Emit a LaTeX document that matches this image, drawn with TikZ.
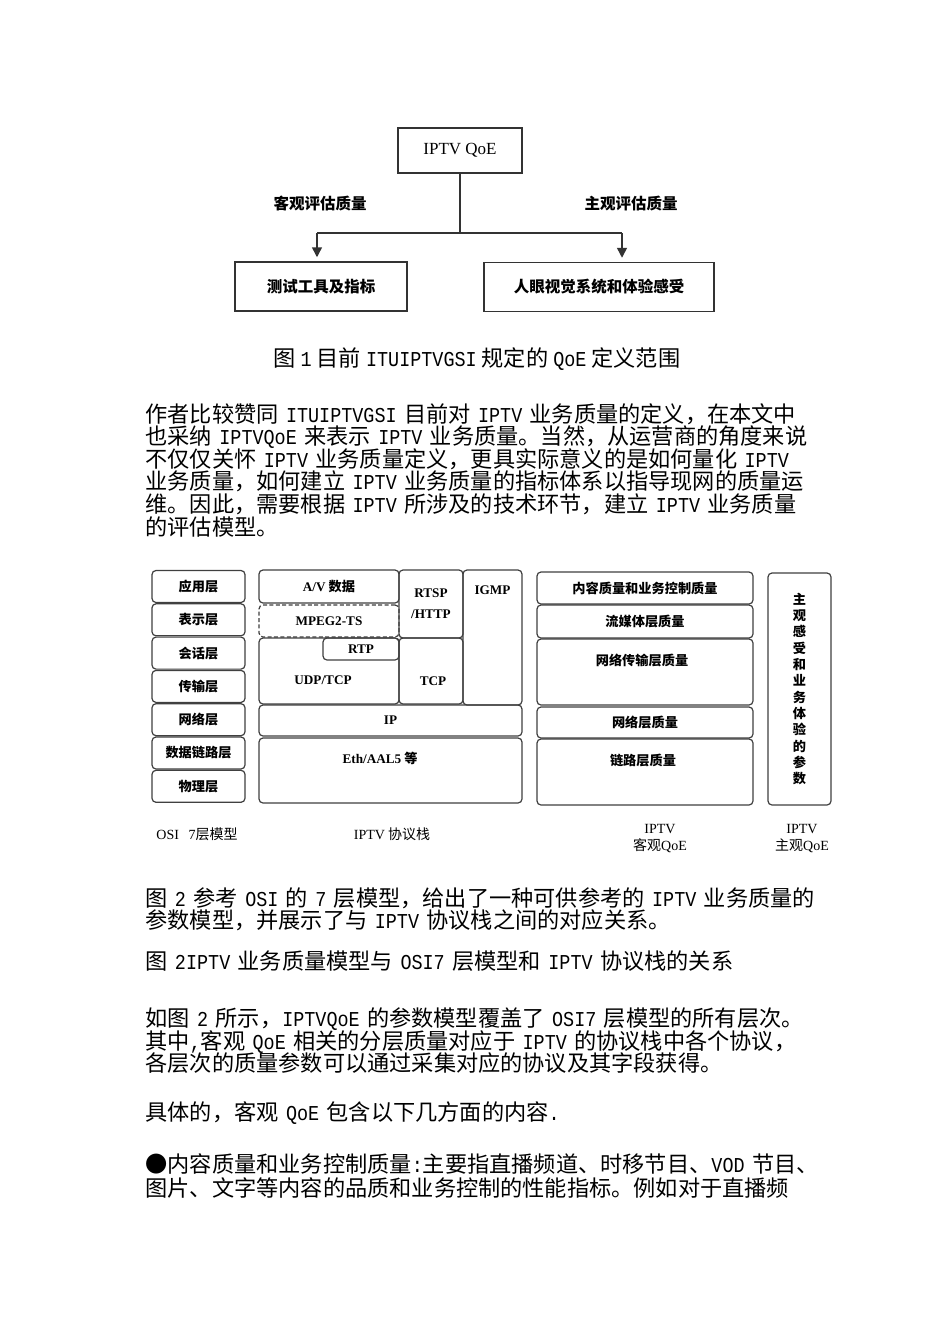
\documentclass[tikz,border=0pt]{standalone}
\usepackage{fontspec}
\newfontfamily\cjk{Noto Sans CJK SC}
\newfontfamily\tms{Liberation Serif}
\newfontfamily\monofnt{Liberation Mono}[Scale=0.955,FakeStretch=0.87]
\newcommand\ltn[1]{{\monofnt #1}}
\newcommand\bodyfont{\cjk\fontsize{11.1pt}{11.3pt}\selectfont\spaceskip=2.5pt\relax\lineskiplimit=-20pt\relax}
\newcommand\listfont{\cjk\fontsize{11.1pt}{12.3pt}\selectfont\spaceskip=2.5pt\relax\lineskiplimit=-20pt\relax}
\newcommand\figfont{\cjk\bfseries\fontsize{7.75pt}{9pt}\selectfont}
\newcommand\stackfont{\cjk\bfseries\fontsize{6.6pt}{8.15pt}\selectfont}
\newcommand\botfont{\cjk\fontsize{7pt}{8.5pt}\selectfont}
\usepackage{tikz}
\usetikzlibrary{arrows.meta,positioning}

\begin{document}
\begin{tikzpicture}[x=0.5pt,y=-0.5pt,>={Triangle[length=5pt,width=5pt]},
  wire/.style={draw=black!80,line width=0.75pt},
  box/.style={wire,minimum height=24.5pt,inner sep=0pt,font=\figfont},
  layer/.style={draw=black!75,line width=0.6pt,rounded corners=2pt,inner sep=0pt,font=\stackfont},
  lbl/.style={inner sep=0pt,font=\stackfont},
  para/.style={anchor=base west,inner sep=0pt,text width=370pt,align=left,font=\bodyfont}]
\path[fill=white,use as bounding box] (0,0) rectangle (950,1344);

% figure 1
\node[box,minimum width=62pt,minimum height=22.5pt] (qoe) at (460,150.5) {\tms\mdseries\fontsize{8.5pt}{10pt}\selectfont IPTV QoE};
\node[box,minimum width=86pt] (tool) at (321,286.5) {测试工具及指标};
\node[box,minimum width=115pt] (human) at (599,287) {人眼视觉系统和体验感受};
\coordinate (split) at (460,233);
\coordinate (lft) at (317,233);
\coordinate (rgt) at (622,233);
\draw[wire] (qoe) -- (split);
\draw[wire] (lft) -- (rgt);
\draw[wire,->,shorten >=2pt] (lft) -- (lft |- tool.north);
\draw[wire,->,shorten >=2pt] (rgt) -- (rgt |- human.north);
\node[font=\figfont] (objlab) at (320,204) {客观评估质量};
\node[font=\figfont] (subjlab) at (631,204) {主观评估质量};

\node[anchor=base west,inner sep=0pt,font=\bodyfont] (cap1) at (273,366.7) {图 \ltn{1} 目前 \ltn{ITUIPTVGSI} 规定的 \ltn{QoE} 定义范围};
\node[para] (para1) at (145,422) {作者比较赞同 \ltn{ITUIPTVGSI} 目前对 \ltn{IPTV} 业务质量的定义，在本文中\\
也采纳 \ltn{IPTVQoE} 来表示 \ltn{IPTV} 业务质量。当然，从运营商的角度来说\\
不仅仅关怀 \ltn{IPTV} 业务质量定义，更具实际意义的是如何量化 \ltn{IPTV}\\
业务质量，如何建立 \ltn{IPTV} 业务质量的指标体系以指导现网的质量运\\
维。因此，需要根据 \ltn{IPTV} 所涉及的技术环节，建立 \ltn{IPTV} 业务质量\\
的评估模型。};

% figure 2: OSI layers
\foreach \name [count=\i] in {应用层,表示层,会话层,传输层,网络层,数据链路层,物理层}
  \node[layer,minimum width=46.5pt,minimum height=16pt] (osi\i) at (198.5,553.2+33.3*\i) {\name};

% IPTV protocol stack
\node[layer,minimum width=70pt,minimum height=16.5pt] (av) at (329,586.5) {{\tms A/V} 数据};
\node[layer,dash pattern=on 2pt off 1.2pt,minimum width=70pt,minimum height=16pt] (mpeg) at (329,621) {\tms MPEG2-TS};
\node[layer,minimum width=32pt,minimum height=34pt,align=center] (rtsp) at (431,604) {{\tms RTSP}\\[2.35pt]{\tms /HTTP}};
\node[layer,minimum width=29.5pt,minimum height=67.5pt] (igmp) at (492.5,637.5) {};
\node[lbl] (igmptxt) at ([yshift=-10.5pt]igmp.north) {\tms IGMP};
\node[layer,minimum width=70pt,minimum height=33pt] (udp) at (329,671) {};
\node[layer,minimum width=38pt,minimum height=11pt] (rtp) at (361,649) {\tms RTP};
\node[lbl] (udptxt) at (323,680) {\tms UDP/TCP};
\node[layer,minimum width=32pt,minimum height=33pt] (tcp) at (431,671) {};
\node[lbl] (tcptxt) at (433,681) {\tms TCP};
\node[layer,minimum width=131.5pt,minimum height=15.5pt] (ip) at (390.5,720.5) {\tms IP};
\node[layer,minimum width=131.5pt,minimum height=32.5pt] (eth) at (390.5,770.5) {};
\node[lbl] (ethtxt) at (380,758) {{\tms Eth/AAL5} 等};

% objective QoE
\node[layer,minimum width=108pt,minimum height=16pt] (q1) at (645,588) {内容质量和业务控制质量};
\node[layer,minimum width=108pt,minimum height=16.5pt] (q2) at (645,621.5) {流媒体层质量};
\node[layer,minimum width=108pt,minimum height=33pt] (q3) at (645,672) {};
\node[lbl] (q3txt) at (642,660) {网络传输层质量};
\node[layer,minimum width=108pt,minimum height=15.5pt] (q4) at (645,722.5) {网络层质量};
\node[layer,minimum width=108pt,minimum height=33pt] (q5) at (645,772) {};
\node[lbl] (q5txt) at (643,760) {链路层质量};

% subjective QoE
\node[layer,minimum width=31.5pt,minimum height=116pt,align=center] (subj) at (799.5,689) {主\\观\\感\\受\\和\\业\\务\\体\\验\\的\\参\\数};

\node[lbl,font=\botfont] (osilab) at (197,834) {{\tms OSI\hspace{3pt} 7}层模型};
\node[lbl,font=\botfont] (stacklab) at (392,834) {{\tms IPTV} 协议栈};
\node[lbl,font=\botfont,align=center] (objqoe) at (660,838.5) {{\tms IPTV}\\客观{\tms QoE}};
\node[lbl,font=\botfont,align=center] (subjqoe) at (802,838.5) {{\tms IPTV}\\主观{\tms QoE}};

\node[para] (para2) at (145,906.2) {图 \ltn{2} 参考 \ltn{OSI} 的 \ltn{7} 层模型，给出了一种可供参考的 \ltn{IPTV} 业务质量的\\
参数模型，并展示了与 \ltn{IPTV} 协议栈之间的对应关系。};
\node[para] (cap2) at (145,969.4) {图 \ltn{2IPTV} 业务质量模型与 \ltn{OSI7} 层模型和 \ltn{IPTV} 协议栈的关系};
\node[para] (para3) at (145,1026.7) {如图 \ltn{2} 所示，\ltn{IPTVQoE} 的参数模型覆盖了 \ltn{OSI7} 层模型的所有层次。\\
其中\ltn{,}客观 \ltn{QoE} 相关的分层质量对应于 \ltn{IPTV} 的协议栈中各个协议，\\
各层次的质量参数可以通过采集对应的协议及其字段获得。};
\node[para] (para4) at (145,1120.4) {具体的，客观 \ltn{QoE} 包含以下几方面的内容\ltn{.}};
\node[para,font=\listfont] (para5) at (145,1172) {●内容质量和业务控制质量\ltn{:}主要指直播频道、时移节目、\ltn{VOD} 节目、\\
图片、文字等内容的品质和业务控制的性能指标。例如对于直播频};
\end{tikzpicture}
\end{document}
